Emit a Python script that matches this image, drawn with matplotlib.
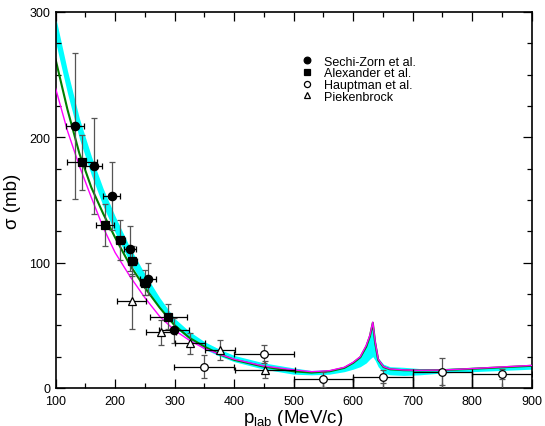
import numpy as np
import matplotlib
matplotlib.use('Agg')
import matplotlib.pyplot as plt
from matplotlib.ticker import MultipleLocator

plt.rcParams['font.family'] = ['Liberation Sans', 'DejaVu Sans']
plt.rcParams['mathtext.fontset'] = 'custom'
plt.rcParams['mathtext.rm'] = 'Liberation Sans'

# theory curves
p_th = [100, 120, 140, 160, 180, 200, 225, 250, 275, 300, 325, 350, 375, 400, 450,
        500, 530, 560, 585, 600, 612, 622, 628, 633, 637, 642, 651, 662, 685, 712,
        750, 800, 850, 900]
band_lo = [276, 235, 199, 170, 145, 124, 100, 81, 64, 48.5, 39, 31, 25.5, 21, 15,
           11, 10.5, 11, 13, 15, 17, 20, 23, 25, 22, 17, 12, 10.5, 10, 10.5,
           12, 13, 14, 15]
band_hi = [296, 253, 215, 185, 159, 137, 112, 91, 72, 55.5, 45, 37, 31, 26, 20,
           16, 14, 14.5, 17, 21, 25, 34, 42, 51, 38, 24, 19, 17, 16.5, 15.5,
           15.5, 16.5, 17, 18]
green = [262, 222, 187, 160, 139, 120, 98, 80, 64, 50, 40, 33, 27, 22.5, 17,
         13.3, 12.3, 13.3, 16, 20, 24.5, 33, 41, 52, 36, 22.5, 16.7, 14.9, 14.2, 14.0,
         14.2, 15.3, 16.5, 17.7]
magenta = [239, 205, 177, 152, 128, 108, 89, 72, 57, 46, 38, 31.5, 27, 23, 17.5,
           14.5, 13, 13.8, 16.5, 20.5, 25, 34, 42, 52.5, 37, 23, 17, 15.2, 14.4, 14.1,
           14.3, 15.5, 16.8, 18]

# data sets
sz_p = [133, 164, 194, 225, 255, 299]
sz_s = [209, 177, 153, 111, 87, 46]
sz_dp = [15, 14, 15, 10, 14, 25]
sz_ds = [58, 38, 27, 18, 13, 10]

al_p = [144, 183, 209, 229, 250, 289]
al_s = [180, 130, 118, 101, 84, 57]
al_dp = [25, 15, 8, 8, 8, 31]
al_ds = [22, 17, 16, 12, 10, 10]

ha_p = [349, 450, 550, 650, 750, 850]
ha_s = [17, 27, 7, 9, 13, 11]
ha_dp = [50, 50, 50, 50, 50, 50]
ha_ds = [9, 7, 6, 5, 11, 4]

pk_p = [228, 277, 326, 376, 452]
pk_s = [69, 44.4, 35.6, 30.6, 14.6]
pk_dp = [24, 25, 25, 25, 50]
pk_ds = [22, 10, 8.5, 8, 7]

fig = plt.figure(figsize=(5.45, 4.27), dpi=100)
ax = fig.add_axes([0.102, 0.089, 0.8736, 0.881])

ax.fill_between(p_th, band_lo, band_hi, color='#00ffff', lw=0, zorder=1)
ax.plot(p_th, green, color='#008000', lw=1.5, zorder=2)
ax.plot(p_th, magenta, color='#ff00ff', lw=1.0, zorder=3)

ebkw = dict(elinewidth=0.9, capsize=2.2, capthick=0.9, ls='none', zorder=5)
sets = [
    (sz_p, sz_s, sz_dp, sz_ds, 'o', 6, 'black', 'Sechi-Zorn et al.'),
    (al_p, al_s, al_dp, al_ds, 's', 5.5, 'black', 'Alexander et al.'),
    (ha_p, ha_s, ha_dp, ha_ds, 'o', 5.5, 'white', 'Hauptman et al.'),
    (pk_p, pk_s, pk_dp, pk_ds, '^', 6, 'white', 'Piekenbrock'),
]
handles = []
for p, s, dp, ds, m, ms, fc, lab in sets:
    # vertical bars grey, horizontal bars black, as in the original
    ax.errorbar(p, s, yerr=ds, fmt='none', ecolor='#555555', **ebkw)
    c = ax.errorbar(p, s, xerr=dp, fmt=m, ms=ms, mfc=fc, mec='black', mew=0.9,
                    ecolor='black', label=lab, **ebkw)
    handles.append(c.lines[0])

# bin edges of the high-momentum Hauptman points drop to the axis
hp = np.array(ha_p[2:])
hs = np.array(ha_s[2:])
hd = np.array(ha_dp[2:])
ax.vlines(np.concatenate([hp - hd, hp + hd]), 0, np.concatenate([hs, hs]),
          color='black', lw=0.9, zorder=4)
ax.vlines(hp, 0, hs, color='#555555', lw=0.9, zorder=4)

ax.set_xlim(100, 900)
ax.set_ylim(0, 300)
ax.xaxis.set_major_locator(MultipleLocator(100))
ax.xaxis.set_minor_locator(MultipleLocator(50))
ax.yaxis.set_major_locator(MultipleLocator(100))
ax.yaxis.set_minor_locator(MultipleLocator(25))
ax.tick_params(which='both', direction='in', top=True, right=True, labelsize=9, width=0.9)
ax.tick_params(which='major', length=6.5, pad=4)
ax.tick_params(axis='x', which='major', pad=5)
ax.tick_params(which='minor', length=3.5)
for sp in ax.spines.values():
    sp.set_linewidth(1.2)

ax.set_xlabel(r'p$_{\rm lab}$ (MeV/c)', fontsize=13.5, labelpad=0)
ax.set_ylabel('σ (mb)', fontsize=13.5, labelpad=6)

ax.legend(handles=handles, labels=[x[-1] for x in sets], loc='upper left',
          bbox_to_anchor=(0.505, 0.897), frameon=False, fontsize=9,
          handlelength=1.0, handletextpad=0.8, labelspacing=-0.02,
          borderaxespad=0, markerscale=0.8)

fig.savefig('out.png', dpi=100)
